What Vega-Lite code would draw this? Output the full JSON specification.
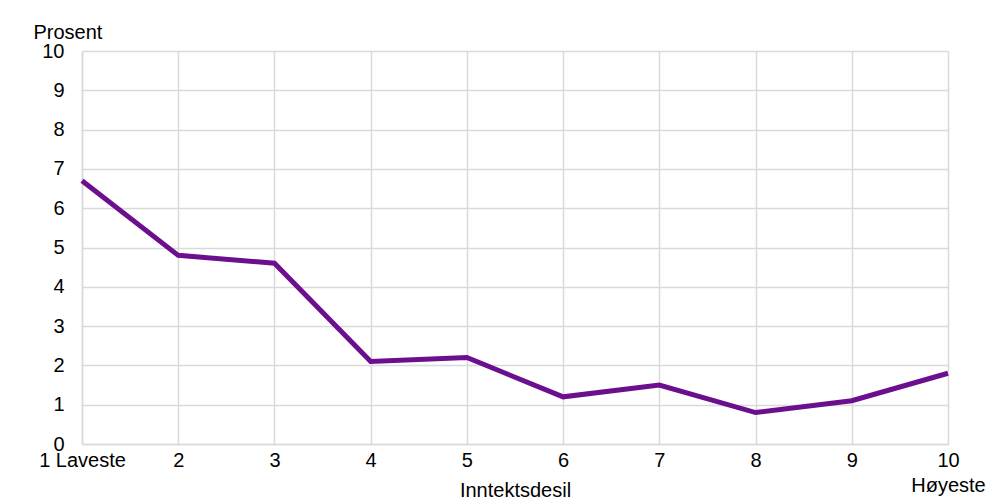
{
  "$schema": "https://vega.github.io/schema/vega-lite/v6.json",
  "autosize": {"type": "none"},
  "padding": {"left": 82, "top": 51, "right": 56, "bottom": 56},
  "width": 866,
  "height": 393,
  "background": "white",
  "config": {
    "font": "Liberation Sans",
    "view": {"stroke": null},
    "axis": {
      "labelFont": "Liberation Sans",
      "titleFont": "Liberation Sans",
      "labelFontSize": 20,
      "titleFontSize": 20,
      "labelColor": "#000000",
      "titleColor": "#000000",
      "titleFontWeight": "normal",
      "gridColor": "#d9d9d9",
      "gridWidth": 1.5,
      "gridOpacity": 1,
      "domainColor": "#d9d9d9",
      "domainWidth": 1.5,
      "ticks": false
    }
  },
  "data": {
    "values": [
      {"desil": 1, "prosent": 6.7},
      {"desil": 2, "prosent": 4.8},
      {"desil": 3, "prosent": 4.6},
      {"desil": 4, "prosent": 2.1},
      {"desil": 5, "prosent": 2.2},
      {"desil": 6, "prosent": 1.2},
      {"desil": 7, "prosent": 1.5},
      {"desil": 8, "prosent": 0.8},
      {"desil": 9, "prosent": 1.1},
      {"desil": 10, "prosent": 1.8}
    ]
  },
  "mark": {"type": "line", "color": "#6b0f8f", "strokeWidth": 5, "strokeJoin": "miter"},
  "encoding": {
    "x": {
      "field": "desil",
      "type": "quantitative",
      "scale": {"domain": [1, 10], "nice": false, "zero": false},
      "axis": {
        "values": [1, 2, 3, 4, 5, 6, 7, 8, 9, 10],
        "title": "Inntektsdesil",
        "titleY": 36,
        "titleBaseline": "top",
        "labelPadding": 6,
        "labelLineHeight": 25,
        "labelOverlap": false,
        "labelFlush": false,
        "labelExpr": "datum.value == 1 ? '1 Laveste' : datum.value == 10 ? ['10', 'Høyeste'] : datum.label"
      }
    },
    "y": {
      "field": "prosent",
      "type": "quantitative",
      "scale": {"domain": [0, 10], "nice": false},
      "axis": {
        "values": [0, 1, 2, 3, 4, 5, 6, 7, 8, 9, 10],
        "title": "Prosent",
        "titleAngle": 0,
        "titleAlign": "left",
        "titleBaseline": "alphabetic",
        "titleX": -49,
        "titleY": -13,
        "labelPadding": 18
      }
    }
  }
}
